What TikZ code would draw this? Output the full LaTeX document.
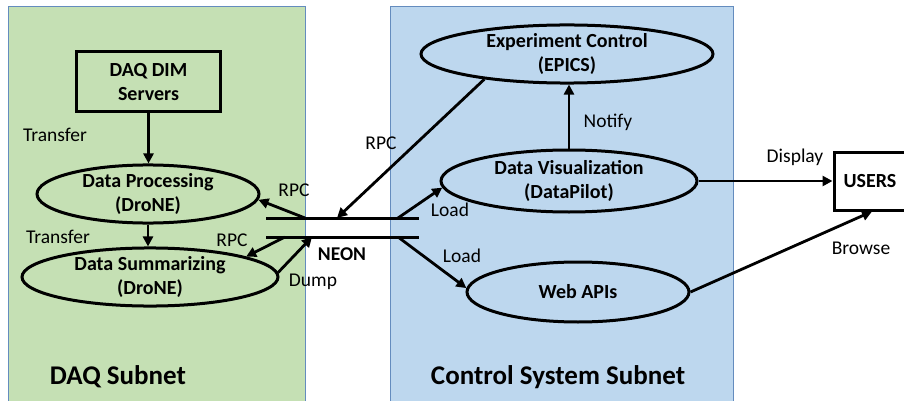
\documentclass[tikz,border=0pt]{standalone}
\usepackage{fontspec}
\setmainfont{Carlito}
\usetikzlibrary{shapes.geometric,arrows.meta}
\definecolor{daqgreen}{RGB}{197,224,180}
\definecolor{csblue}{RGB}{189,215,238}
\definecolor{frameblue}{RGB}{100,140,190}
\tikzset{
  zone/.style={draw=frameblue,line width=0.8pt},
  ell/.style={ellipse,draw,line width=3pt,inner sep=0pt,align=center,font=\fontsize{20}{24}\selectfont\bfseries},
  boxnode/.style={rectangle,draw,line width=3pt,inner sep=0pt,align=center,font=\fontsize{20}{24}\selectfont\bfseries},
  arr/.style={line width=2.8pt,-{Triangle[length=10pt,width=10pt]}},
  bus/.style={line width=3pt},
  lbl/.style={font=\fontsize{19.5}{22}\selectfont,inner sep=0pt},
  title/.style={font=\fontsize{27}{30}\selectfont\bfseries,inner sep=0pt}
}
\begin{document}
\begin{tikzpicture}[x=1pt,y=-1pt]
\useasboundingbox (0,0) rectangle (904,401);
\clip (0,0) rectangle (904,401);
\fill[white] (0,0) rectangle (904,401);
% zones
\draw[zone,fill=daqgreen] (8,6) rectangle (305,410);
\draw[zone,fill=csblue] (390,6) rectangle (733,410);
% nodes
\node[boxnode,minimum width=144pt,minimum height=60pt] (dim) at (148.5,82) {DAQ DIM\\Servers};
\node[ell,minimum width=222pt,minimum height=56pt] (dp) at (148,194) {Data Processing\\(DroNE)};
\node[ell,minimum width=256pt,minimum height=58pt] (ds) at (150,277) {Data Summarizing\\(DroNE)};
\node[ell,minimum width=292pt,minimum height=58pt] (ec) at (567,54) {Experiment Control\\(EPICS)};
\node[ell,minimum width=256pt,minimum height=62pt] (dv) at (569,181) {Data Visualization\\(DataPilot)};
\node[ell,minimum width=222pt,minimum height=60pt] (wa) at (578,292) {Web APIs};
\node[boxnode,minimum width=76pt,minimum height=58pt] (users) at (872,181) {\hspace*{-4pt}USERS};
% NEON bus
\coordinate (tl) at (266,218); \coordinate (tr) at (419,218);
\coordinate (bl) at (266,237); \coordinate (br) at (419,237);
\draw[bus] (tl) -- (tr);
\draw[bus] (bl) -- (br);
\coordinate (n1) at (305,218);
\coordinate (n2) at (285,237);
\coordinate (n3) at (312,237);
\coordinate (n4) at (337,218);
\coordinate (n5) at (398,218);
\coordinate (n6) at (398,237);
% connectors
\draw[arr] (dim.south) -- (dim.south |- dp.north);
\draw[arr] (dp.south) -- (dp.south |- ds.north);
\draw[arr] (n1) -- (dp.-3);
\draw[arr] (n2) -- (ds.12);
\draw[arr] (ds.2) -- (n3);
\draw[arr] (ec.197) -- (n4);
\draw[arr] (n5) -- (dv.183);
\draw[arr] (n6) -- (wa.178);
\draw[arr] (dv.north) -- (dv.north |- ec.south);
\draw[arr] (dv.east) -- (users.west);
\draw[arr] (wa.east) -- (users.south);
% labels
\node[lbl] (l1) at (55,135) {Transfer};
\node[lbl] (l2) at (58,237) {Transfer};
\node[lbl] (l3) at (294,190) {RPC};
\node[lbl] (l4) at (232,240) {RPC};
\node[lbl] (l5) at (313,282) {Dump};
\node[lbl,font=\fontsize{19.5}{22}\selectfont\bfseries] (neon) at (342,254) {NEON};
\node[lbl] (l6) at (381,143) {RPC};
\node[lbl] (l7) at (450,210) {Load};
\node[lbl] (l8) at (462,256) {Load};
\node[lbl] (l9) at (608,122) {Notify};
\node[lbl] (l10) at (795,157) {Display};
\node[lbl] (l11) at (861,248) {Browse};
\node[title] (t1) at (118,377) {DAQ Subnet};
\node[title] (t2) at (558,377) {Control System Subnet};
\end{tikzpicture}
\end{document}
